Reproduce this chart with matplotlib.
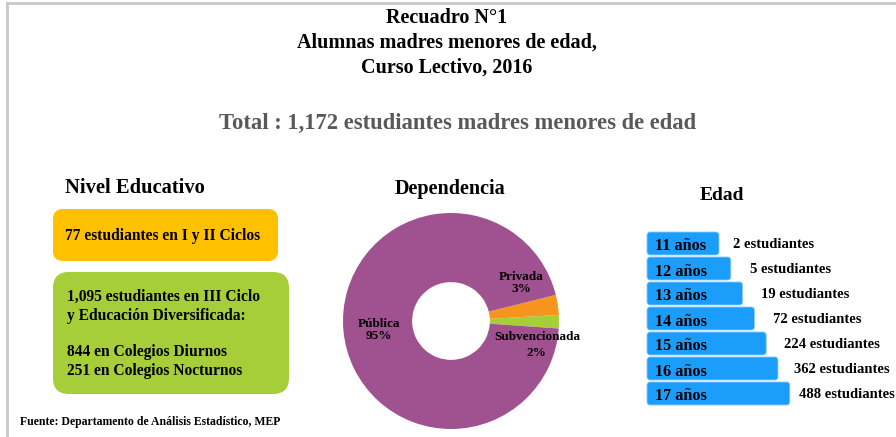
import matplotlib.pyplot as plt
from matplotlib.patches import FancyBboxPatch
from matplotlib.lines import Line2D

plt.rcParams["font.family"] = ["Liberation Serif", "DejaVu Serif"]
plt.rcParams["font.weight"] = "bold"

title_lines = ["Recuadro N°1", "Alumnas madres menores de edad,", "Curso Lectivo, 2016"]
total_text = "Total : 1,172 estudiantes madres menores de edad"
source_text = "Fuente: Departamento de Análisis Estadístico, MEP"

nivel_primary = "77 estudiantes en I y II Ciclos"
nivel_secondary = [
    "1,095 estudiantes en III Ciclo",
    "y Educación Diversificada:",
    "",
    "844 en Colegios Diurnos",
    "251 en Colegios Nocturnos",
]

dep_labels = ["Subvencionada", "Privada", "Pública"]
dep_values = [2, 3, 95]
dep_colors = ["#A6CE39", "#F7941D", "#A0518F"]

ages = ["11 años", "12 años", "13 años", "14 años", "15 años", "16 años", "17 años"]
age_counts = [2, 5, 19, 72, 224, 362, 488]


def main():
    W, H = 896, 437
    fig = plt.figure(figsize=(W / 100, H / 100), dpi=100)

    # donut sits underneath the overlay axes that carries all the text
    pax = fig.add_axes([(451 - 108) / W, 1 - (321 + 108) / H, 216 / W, 216 / H])
    pax.pie(dep_values, colors=dep_colors, startangle=-4, counterclock=True,
            wedgeprops=dict(width=0.64, edgecolor="none"))
    pax.set_xlim(-1, 1)
    pax.set_ylim(-1, 1)
    pax.set_aspect("equal")
    pax.set_zorder(1)

    ax = fig.add_axes([0, 0, 1, 1])
    ax.set_zorder(2)
    ax.patch.set_alpha(0)
    ax.set_xlim(0, W)
    ax.set_ylim(H, 0)
    ax.axis("off")

    # frame
    ax.add_line(Line2D([7, 7], [3, H], color="#C8C8C8", lw=2))
    ax.add_line(Line2D([7, W], [3, 3], color="#C8C8C8", lw=2))

    for i, line in enumerate(title_lines):
        ax.text(447, 18 + 25 * i, line, ha="center", va="center", fontsize=14.5)
    ax.text(458, 123, total_text, ha="center", va="center", fontsize=16.3,
            color="#595959")

    # Nivel educativo
    ax.text(65, 188, "Nivel Educativo", ha="left", va="center", fontsize=14.8)
    ax.add_patch(FancyBboxPatch((53, 209), 225, 52,
                                boxstyle="round,pad=0,rounding_size=10",
                                fc="#FFC000", ec="none"))
    ax.text(65, 236, nivel_primary, ha="left", va="center", fontsize=11.2)
    ax.add_patch(FancyBboxPatch((53, 272), 236, 122,
                                boxstyle="round,pad=0,rounding_size=16",
                                fc="#A6CE39", ec="none"))
    for i, line in enumerate(nivel_secondary):
        ax.text(67, 297 + 18.5 * i, line, ha="left", va="center", fontsize=11.2)
    ax.text(20, 422, source_text, ha="left", va="center", fontsize=8.5)

    # Dependencia labels
    ax.text(450, 189, "Dependencia", ha="center", va="center", fontsize=14.5)
    pct = [f"{v}%" for v in dep_values]
    ax.text(521, 283, f"{dep_labels[1]}\n{pct[1]}", ha="center", va="center",
            fontsize=9.5, linespacing=1.05)
    ax.text(379, 330, f"{dep_labels[2]}\n{pct[2]}", ha="center", va="center",
            fontsize=9.5, linespacing=1.05)
    ax.text(537, 337, dep_labels[0], ha="center", va="center", fontsize=9.5)
    ax.text(546, 353, pct[0], ha="right", va="center", fontsize=9.5)

    # Edad
    ax.text(722, 195, "Edad", ha="center", va="center", fontsize=14)
    x0, y0, pitch, bh = 647, 232, 25, 23
    label_gap = [14, 19, 18, 19, 18, 16, 9]
    for i, (age, n) in enumerate(zip(ages, age_counts)):
        w = 72 + 11.8 * i
        top = y0 + pitch * i
        ax.add_patch(FancyBboxPatch((x0, top), w, bh,
                                    boxstyle="round,pad=0,rounding_size=3",
                                    fc="#1B9DFC", ec="#8CCBFB", lw=0.6))
        ax.text(655, top + bh / 2 + 3, age, ha="left", va="center", fontsize=11.7)
        ax.text(x0 + w + label_gap[i], top + bh / 2 + 1,
                f"{n} estudiantes", ha="left", va="center", fontsize=10.5)

    fig.savefig("out.png", dpi=100)
    plt.close(fig)


if __name__ == "__main__":
    main()
